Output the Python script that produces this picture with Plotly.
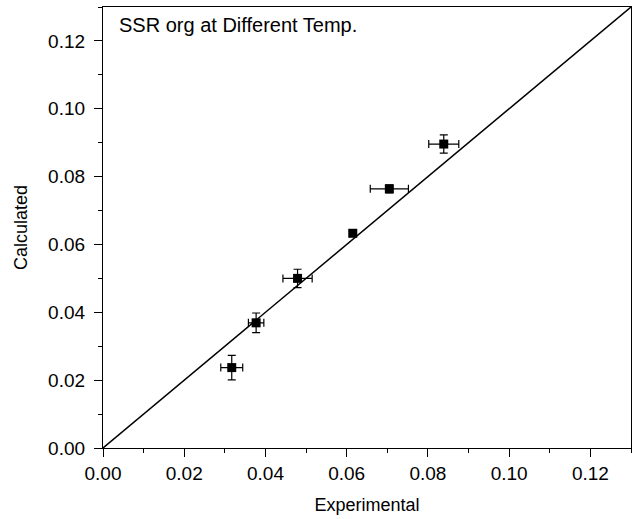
import plotly.graph_objects as go

experimental = [0.0317, 0.0377, 0.0479, 0.0615, 0.0705, 0.0839]
calculated = [0.0237, 0.0369, 0.0500, 0.0633, 0.0764, 0.0896]
err_x = [0.0027, 0.0019, 0.0036, 0.0008, 0.0047, 0.0037]
err_y = [0.0036, 0.0029, 0.0027, 0.0008, 0.0012, 0.0027]
line_ends = [0.0, 0.13]
tick_vals = [0.0, 0.02, 0.04, 0.06, 0.08, 0.10, 0.12]
tick_text = ["0.00", "0.02", "0.04", "0.06", "0.08", "0.10", "0.12"]

FONT = "Liberation Sans, Arial, sans-serif"

fig = go.Figure()
fig.add_trace(go.Scatter(x=line_ends, y=line_ends, mode="lines",
                         line=dict(color="black", width=1.5), showlegend=False))
fig.add_trace(go.Scatter(
    x=experimental, y=calculated, mode="markers",
    marker=dict(symbol="square", size=9, color="black"),
    error_x=dict(type="data", array=err_x, color="black", thickness=1.2, width=4),
    error_y=dict(type="data", array=err_y, color="black", thickness=1.2, width=4),
    showlegend=False))

axis_common = dict(
    range=[0, 0.13], tickvals=tick_vals, ticktext=tick_text,
    ticks="outside", ticklen=8, tickwidth=1.2, tickcolor="black",
    showline=True, linecolor="black", linewidth=1.3, mirror=True,
    showgrid=False, zeroline=False,
    tickfont=dict(family=FONT, size=19, color="black"),
    minor=dict(ticks="outside", ticklen=4, tickwidth=1.2, tickcolor="black", dtick=0.01),
)

fig.update_layout(
    width=639, height=519,
    margin=dict(l=103, r=8, t=7, b=71),
    plot_bgcolor="white", paper_bgcolor="white",
    xaxis=dict(**axis_common, title=dict(text="Experimental", standoff=15,
               font=dict(family=FONT, size=18, color="black"))),
    yaxis=dict(**axis_common, ticklabelstandoff=5,
               title=dict(text="Calculated", standoff=15,
                          font=dict(family=FONT, size=18, color="black"))),
    annotations=[dict(text="SSR org at Different Temp.", xref="paper", yref="paper",
                      x=0.026, y=0.96, xanchor="left", yanchor="middle", showarrow=False,
                      font=dict(family=FONT, size=20, color="black"))],
)

fig.write_html("out.html")
